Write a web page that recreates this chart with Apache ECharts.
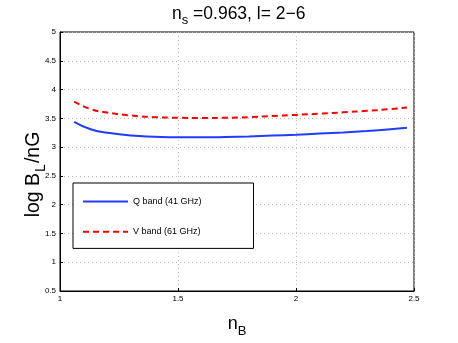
<!DOCTYPE html>
<html>
<head>
<meta charset="utf-8">
<script src="https://cdn.jsdelivr.net/npm/echarts@6/dist/echarts.min.js"></script>
<style>
  html, body { margin: 0; padding: 0; background: #fff; }
  #main { width: 458px; height: 343px; }
</style>
</head>
<body>
<div id="main"></div>
<script>
// n_B values along x
const nB = [1.06, 1.13, 1.2, 1.3, 1.4, 1.5, 1.6, 1.7, 1.8, 1.9, 2.0, 2.1, 2.2, 2.3, 2.4, 2.47];
// log B_L / nG
const qBand = [3.44, 3.31, 3.25, 3.2, 3.18, 3.17, 3.17, 3.175, 3.185, 3.2, 3.215, 3.235, 3.255, 3.28, 3.31, 3.335];
const vBand = [3.79, 3.66, 3.6, 3.55, 3.52, 3.51, 3.505, 3.51, 3.52, 3.54, 3.56, 3.58, 3.605, 3.63, 3.66, 3.69];
const seriesNames = ["Q band (41 GHz)", "V band (61 GHz)"];

const font = "Liberation Sans";
const chart = echarts.init(document.getElementById("main"));

const toPairs = (ys) => nB.map((x, i) => [x, ys[i]]);

const option = {
  animation: false,
  title: {
    text: "{a|n}{s|s}{a| =0.963, l= 2\u22126}",
    left: 167,
    top: -3,
    textStyle: {
      rich: {
        a: { fontFamily: font, fontSize: 17.5, fontWeight: "normal", color: "#000" },
        s: { fontFamily: font, fontSize: 13, fontWeight: "normal", color: "#000", padding: [12, 0, 0, 0] },
      },
    },
  },
  grid: {
    left: 60,
    right: 44,
    top: 32,
    bottom: 38,
    show: true,
    borderColor: "#000",
    borderWidth: 1,
  },
  legend: {
    orient: "vertical",
    left: 73,
    top: 183,
    data: seriesNames,
    itemWidth: 45,
    itemHeight: 14,
    itemGap: 19,
    padding: [13, 52, 11, 9],
    borderColor: "#000",
    borderWidth: 1,
    backgroundColor: "#fff",
    itemStyle: { opacity: 0 },
    textStyle: { fontFamily: font, fontSize: 9, color: "#000" },
  },
  xAxis: {
    type: "value",
    min: 1,
    max: 2.5,
    interval: 0.5,
    name: "{a|n}{s|B}",
    nameLocation: "middle",
    nameGap: 20,
    nameTextStyle: {
      rich: {
        a: { fontFamily: font, fontSize: 18, color: "#000" },
        s: { fontFamily: font, fontSize: 13, color: "#000", padding: [14, 0, 0, 0] },
      },
    },
    axisLine: { show: true, lineStyle: { color: "#000", width: 1 } },
    axisTick: { show: true, inside: true, length: 3, lineStyle: { color: "#000" } },
    axisLabel: { fontFamily: font, fontSize: 8, color: "#000", margin: 4 },
    splitLine: { show: true, lineStyle: { color: "#bbb", type: [1, 3], width: 1 } },
  },
  yAxis: {
    type: "value",
    min: 0.5,
    max: 5,
    interval: 0.5,
    name: "{a|log B}{s|L}{a|/nG}",
    nameLocation: "middle",
    nameGap: 12,
    nameMoveOverlap: false,
    nameTextStyle: {
      padding: [0, 26, 0, 0],
      rich: {
        a: { fontFamily: font, fontSize: 19.5, color: "#000" },
        s: { fontFamily: font, fontSize: 14, color: "#000", padding: [15, 1, 0, 1] },
      },
    },
    axisLine: { show: true, lineStyle: { color: "#000", width: 1 } },
    axisTick: { show: true, inside: true, length: 3, lineStyle: { color: "#000" } },
    axisLabel: { fontFamily: font, fontSize: 8, color: "#000", margin: 4 },
    splitLine: { show: true, lineStyle: { color: "#bbb", type: [1, 3], width: 1 } },
  },
  series: [
    {
      name: seriesNames[0],
      type: "line",
      data: toPairs(qBand),
      smooth: true,
      symbol: "none",
      lineStyle: { color: "#1f3cff", width: 2 },
      itemStyle: { color: "#1f3cff" },
    },
    {
      name: seriesNames[1],
      type: "line",
      data: toPairs(vBand),
      smooth: true,
      symbol: "none",
      lineStyle: { color: "#ff0000", width: 2, type: [6, 4] },
      itemStyle: { color: "#ff0000" },
    },
  ],
};

chart.setOption(option);
</script>
</body>
</html>
